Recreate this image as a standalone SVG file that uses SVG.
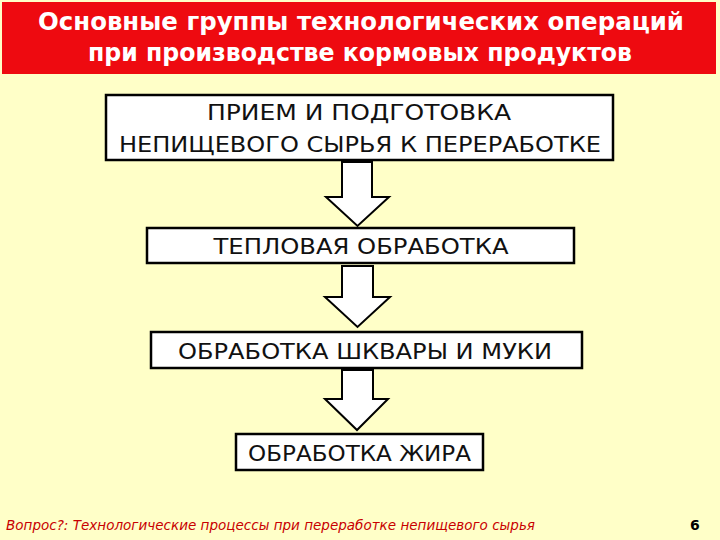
<svg xmlns="http://www.w3.org/2000/svg" width="720" height="540" viewBox="0 0 720 540">
<style>
.box{fill:#FFFFFF;stroke:#000000;stroke-width:2.5}
.lbl{font-family:"DejaVu Sans","Noto Sans",sans-serif;font-size:22px;fill:#111111;text-anchor:middle}
.ttl{font-family:"DejaVu Sans","Noto Sans",sans-serif;font-size:24px;font-weight:bold;fill:#FFFFFF;text-anchor:middle}
.arr{fill:#FFFFFF;stroke:#000000;stroke-width:2;stroke-linejoin:miter}
.foot{font-family:"DejaVu Sans","Noto Sans",sans-serif;font-size:14px;fill:#C80000}
</style>
<rect x="0" y="0" width="720" height="540" fill="#FFFFC8"/>
<g id="title">
<rect x="2" y="2" width="714" height="72" fill="#EE0A10"/>
<text class="ttl" x="361" y="30" textLength="646" lengthAdjust="spacingAndGlyphs">Основные группы технологических операций</text>
<text class="ttl" x="360" y="61" textLength="544" lengthAdjust="spacingAndGlyphs">при производстве кормовых продуктов</text>
</g>
<g id="connectors">
<path class="arr" d="M342,162 L372,162 L372,197 L389,197 L357.5,226 L326,197 L342,197 Z"/>
<path class="arr" d="M342,266 L373,266 L373,297 L390,297 L357.5,327 L325,297 L342,297 Z"/>
<path class="arr" d="M342,370 L373,370 L373,399 L388,399 L357,430 L325,399 L342,399 Z"/>
</g>
<g id="node1">
<rect class="box" x="106" y="95" width="507" height="65"/>
<text class="lbl" x="359" y="120" textLength="304" lengthAdjust="spacingAndGlyphs">ПРИЕМ И ПОДГОТОВКА</text>
<text class="lbl" x="360" y="152" textLength="482" lengthAdjust="spacingAndGlyphs">НЕПИЩЕВОГО СЫРЬЯ К ПЕРЕРАБОТКЕ</text>
</g>
<g id="node2">
<rect class="box" x="147" y="228" width="427" height="35"/>
<text class="lbl" x="361" y="254" textLength="295" lengthAdjust="spacingAndGlyphs">ТЕПЛОВАЯ ОБРАБОТКА</text>
</g>
<g id="node3">
<rect class="box" x="151" y="332" width="431" height="36"/>
<text class="lbl" x="365" y="359" textLength="374" lengthAdjust="spacingAndGlyphs">ОБРАБОТКА ШКВАРЫ И МУКИ</text>
</g>
<g id="node4">
<rect class="box" x="236" y="434" width="247" height="36"/>
<text class="lbl" x="359.5" y="461" textLength="223" lengthAdjust="spacingAndGlyphs">ОБРАБОТКА ЖИРА</text>
</g>
<g id="footer">
<text class="foot" x="6" y="530" textLength="529" lengthAdjust="spacingAndGlyphs" font-style="italic">Вопрос?: Технологические процессы при переработке непищевого сырья</text>
<text x="690" y="530" font-family="DejaVu Sans, sans-serif" font-size="14" font-weight="bold" fill="#000000">6</text>
</g>
</svg>
